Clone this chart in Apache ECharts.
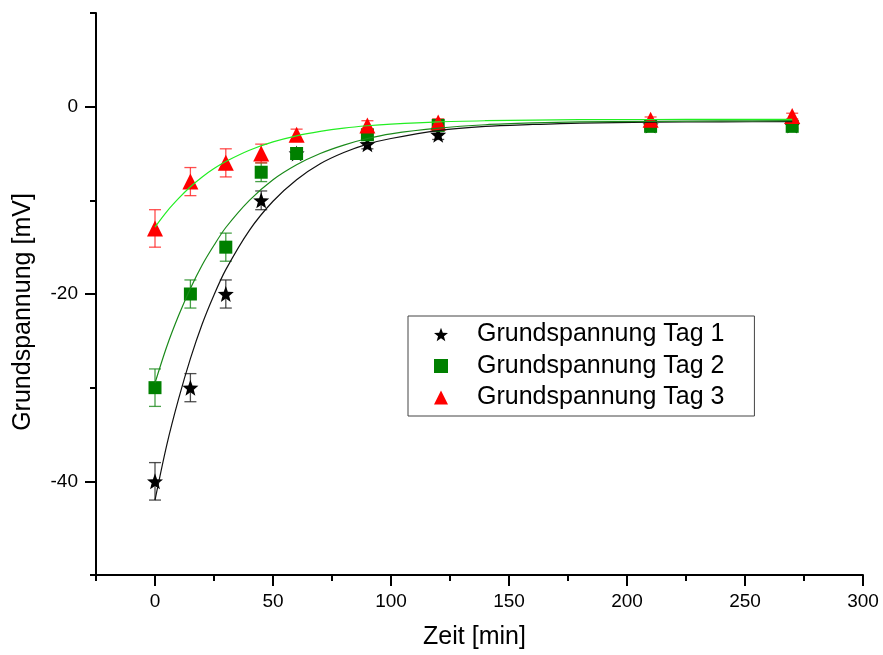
<!DOCTYPE html>
<html>
<head>
<meta charset="utf-8">
<script src="https://cdn.jsdelivr.net/npm/echarts@6/dist/echarts.min.js"></script>
<style>
  html, body { margin: 0; padding: 0; background: #fff; }
  #main { width: 883px; height: 655px; }
</style>
</head>
<body>
<div id="main"></div>
<script>
// Messzeitpunkte [min]
const zeit = [0, 15, 30, 45, 60, 90, 120, 210, 270]

// Messwerte [mV] und Fehler
const tag1 = [-40, -30, -20, -10, -5, -4, -3, -2, -2]
const tag1Err = [2, 1.5, 1.5, 1, 0.5, 0.5, 0.5, 0.3, 0.3]
const tag2 = [-30, -20, -15, -7, -5, -3, -2, -2.1, -2.1]
const tag2Err = [2, 1.5, 1.5, 1, 0.6, 0.5, 0.5, 0.3, 0.3]
const tag3 = [-13, -8, -6, -5, -3, -2, -1.7, -1.4, -1]
const tag3Err = [2, 1.5, 1.5, 1, 0.6, 0.5, 0.4, 0.3, 0.3]

// Fitkurven
const fitZeit = [0, 5, 10, 15, 20, 25, 30, 40, 50, 60, 70, 80, 90, 100, 120, 140, 160, 180, 210, 240, 270]
const fit1 = [-42.0, -36.1, -31.2, -26.9, -23.2, -20.1, -17.4, -13.2, -10.1, -7.8, -6.1, -4.9, -4.0, -3.4, -2.55, -2.1, -1.9, -1.75, -1.66, -1.62, -1.6]
const fit2 = [-29.5, -25.6, -22.3, -19.4, -16.9, -14.8, -12.9, -10.0, -7.8, -6.2, -5.0, -4.1, -3.4, -2.9, -2.3, -1.93, -1.74, -1.63, -1.56, -1.52, -1.5]
const fit3 = [-12.85, -11.2, -9.8, -8.55, -7.5, -6.6, -5.85, -4.65, -3.76, -3.11, -2.64, -2.29, -2.04, -1.86, -1.62, -1.5, -1.43, -1.39, -1.37, -1.36, -1.35]

// Achsen
const xMajor = [0, 50, 100, 150, 200, 250, 300]
const xMinor = [-25, 25, 75, 125, 175, 225, 275]
const yMajor = [-40, -20, 0]
const yMinor = [-50, -30, -10, 10]

const names = ['Grundspannung Tag 1', 'Grundspannung Tag 2', 'Grundspannung Tag 3']
const starPath = 'path://M50,0 L62.3,33 L97.6,34.5 L70,56.5 L79.4,90.5 L50,71 L20.6,90.5 L30,56.5 L2.4,34.5 L37.7,33 Z'

const font = '"Liberation Sans", Arial, sans-serif'

const pairs = (xs, ys) => xs.map((x, i) => [x, ys[i]])
const errData = (ys, es) => zeit.map((x, i) => [x, ys[i], es[i]])

function errorBars(data, color) {
  return {
    type: 'custom',
    data: data,
    z: 1,
    silent: true,
    renderItem: (params, api) => {
      const x = api.value(0)
      const y = api.value(1)
      const e = api.value(2)
      const top = api.coord([x, y + e])
      const bot = api.coord([x, y - e])
      const w = 6
      const style = { stroke: color, lineWidth: 1.3, opacity: 0.8 }
      return {
        type: 'group',
        children: [
          { type: 'line', shape: { x1: top[0], y1: top[1], x2: bot[0], y2: bot[1] }, style },
          { type: 'line', shape: { x1: top[0] - w, y1: top[1], x2: top[0] + w, y2: top[1] }, style },
          { type: 'line', shape: { x1: bot[0] - w, y1: bot[1], x2: bot[0] + w, y2: bot[1] }, style }
        ]
      }
    }
  }
}

function fitLine(ys, color) {
  return {
    type: 'line',
    data: pairs(fitZeit, ys),
    showSymbol: false,
    smooth: 0.3,
    z: 4,
    silent: true,
    lineStyle: { color: color, width: 1.2 }
  }
}

const chart = echarts.init(document.getElementById('main'), null, { renderer: 'canvas' })

const axisText = { color: '#000', fontFamily: font, fontSize: 19 }

const option = {
  animation: false,
  backgroundColor: '#fff',
  grid: { left: 96, right: 20, top: 13, bottom: 79 },
  legend: {
    data: names,
    orient: 'vertical',
    left: 408,
    top: 316,
    padding: [6, 30, 6, 26],
    itemGap: 6.5,
    itemWidth: 14,
    itemHeight: 14,
    borderColor: '#444',
    borderWidth: 1,
    textStyle: { color: '#000', fontFamily: font, fontSize: 25, lineHeight: 25, padding: [0, 0, 0, 24] }
  },
  xAxis: [
    {
      type: 'value',
      min: -25,
      max: 300,
      interval: 25,
      name: 'Zeit [min]',
      nameLocation: 'middle',
      nameGap: 50,
      nameTextStyle: { color: '#000', fontFamily: font, fontSize: 25, padding: [0, 10, 0, 0] },
      axisLine: { onZero: false, lineStyle: { color: '#000', width: 2 } },
      axisTick: { customValues: xMajor, length: 11, lineStyle: { color: '#000', width: 2 } },
      axisLabel: { customValues: xMajor, margin: 17, ...axisText },
      splitLine: { show: false }
    },
    {
      type: 'value',
      min: -25,
      max: 300,
      position: 'bottom',
      axisLine: { show: false, onZero: false },
      axisTick: { customValues: xMinor, length: 6, lineStyle: { color: '#000', width: 2 } },
      axisLabel: { show: false },
      splitLine: { show: false }
    }
  ],
  yAxis: [
    {
      type: 'value',
      min: -50,
      max: 10,
      interval: 10,
      name: 'Grundspannung [mV]',
      nameLocation: 'middle',
      nameGap: 60,
      nameTextStyle: { color: '#000', fontFamily: font, fontSize: 25, padding: [0, 36, 0, 0] },
      axisLine: { onZero: false, lineStyle: { color: '#000', width: 2 } },
      axisTick: { customValues: yMajor, length: 11, lineStyle: { color: '#000', width: 2 } },
      axisLabel: { customValues: yMajor, margin: 18, ...axisText },
      splitLine: { show: false }
    },
    {
      type: 'value',
      min: -50,
      max: 10,
      position: 'left',
      axisLine: { show: false, onZero: false },
      axisTick: { customValues: yMinor, length: 6, lineStyle: { color: '#000', width: 2 } },
      axisLabel: { show: false },
      splitLine: { show: false }
    }
  ],
  series: [
    errorBars(errData(tag1, tag1Err), '#222'),
    errorBars(errData(tag2, tag2Err), '#1a8a1a'),
    errorBars(errData(tag3, tag3Err), '#ff2020'),
    {
      name: names[0],
      type: 'scatter',
      data: pairs(zeit, tag1),
      symbol: starPath,
      symbolSize: 16,
      z: 2,
      itemStyle: { color: '#000', opacity: 1 }
    },
    {
      name: names[1],
      type: 'scatter',
      data: pairs(zeit, tag2),
      symbol: 'rect',
      symbolSize: 13,
      z: 2,
      itemStyle: { color: '#008000', opacity: 1 }
    },
    {
      name: names[2],
      type: 'scatter',
      data: pairs(zeit, tag3),
      symbol: 'triangle',
      symbolSize: 16,
      z: 2,
      itemStyle: { color: '#ff0000', opacity: 1 }
    },
    fitLine(fit1, '#111'),
    fitLine(fit2, '#1a8a1a'),
    fitLine(fit3, '#22ee22')
  ]
}

chart.setOption(option)
</script>
</body>
</html>
